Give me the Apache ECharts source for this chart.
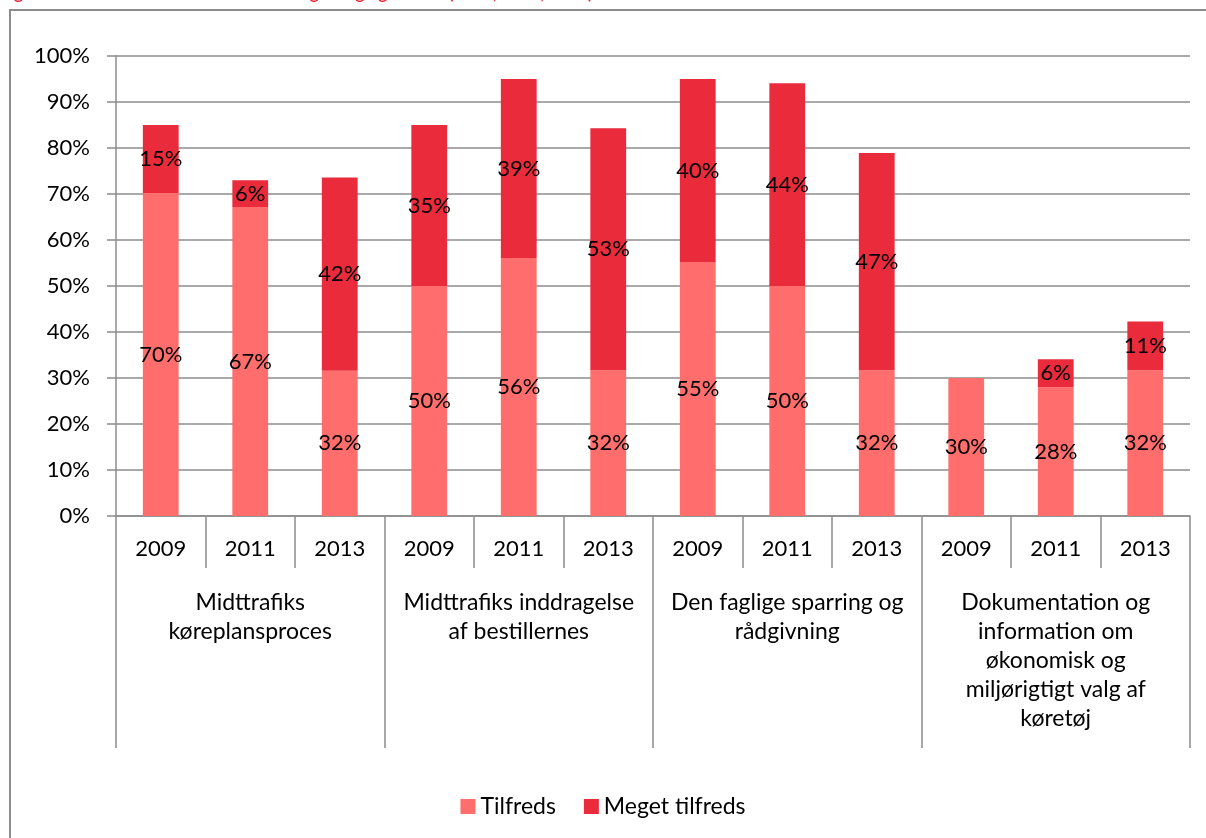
<!DOCTYPE html>
<html>
<head>
<meta charset="utf-8">
<script src="https://cdn.jsdelivr.net/npm/echarts@6/dist/echarts.min.js"></script>
<style>
  html, body { margin: 0; padding: 0; background: #fff; }
  #chart1 { width: 1206px; height: 838px; }
</style>
</head>
<body>
<div id="chart1"></div>
<script>
var years = ['2009', '2011', '2013', '2009', '2011', '2013', '2009', '2011', '2013', '2009', '2011', '2013'];
var groups = [
  'Midttrafiks\nkøreplansproces',
  'Midttrafiks inddragelse\naf bestillernes',
  'Den faglige sparring og\nrådgivning',
  'Dokumentation og\ninformation om\nøkonomisk og\nmiljørigtigt valg af\nkøretøj'
];
var tilfreds = [70.2, 67.2, 31.6, 50, 56.1, 31.7, 55.2, 50, 31.7, 30, 28, 31.7];
var megetTilfreds = [14.8, 5.8, 42, 35, 38.9, 52.6, 39.8, 44.1, 47.2, 0, 6.1, 10.6];
var yTicks = [0, 10, 20, 30, 40, 50, 60, 70, 80, 90, 100];

var font = 'Lato, "Open Sans", sans-serif';
var gray = '#8c8c8c';

var dom = document.getElementById('chart1');
var myChart = echarts.init(dom);

var pctLabel = {
  show: true,
  position: 'inside',
  color: '#000',
  fontFamily: font,
  fontSize: 22,
  formatter: function (p) {
    return p.value > 0 ? Math.round(p.value) + '%' : '';
  }
};

option = {
  animation: false,
  backgroundColor: '#fff',
  textStyle: { fontFamily: font },
  graphic: [
    {
      type: 'rect',
      shape: { x: 10, y: 10, width: 1220, height: 860 },
      style: { fill: 'none', stroke: gray, lineWidth: 2 }
    },
    {
      type: 'text',
      left: 0,
      top: -15,
      style: {
        text: 'Figur 12: Tilfredshed med Midttrafiks rådgivning og service (2009, 2011, 2013)',
        fill: '#e8283a',
        font: 'bold 17px ' + font
      }
    }
  ],
  legend: {
    data: ['Tilfreds', 'Meget tilfreds'],
    left: 'center',
    top: 790,
    icon: 'rect',
    itemWidth: 15,
    itemHeight: 15,
    itemGap: 28,
    textStyle: { fontFamily: font, fontSize: 23, color: '#000' }
  },
  grid: { left: 116, right: 16, top: 56, bottom: 322 },
  yAxis: {
    type: 'value',
    min: 0,
    max: 100,
    interval: 10,
    axisLine: { show: true, lineStyle: { color: gray, width: 1.5 } },
    axisTick: { show: true, length: 9, lineStyle: { color: gray, width: 1.5 } },
    splitLine: { show: true, lineStyle: { color: gray, width: 1.5 } },
    axisLabel: {
      color: '#000',
      fontFamily: font,
      fontSize: 22,
      margin: 26,
      formatter: function (v) { return yTicks.indexOf(v) >= 0 ? v + '%' : ''; }
    }
  },
  xAxis: [
    {
      type: 'category',
      data: years,
      position: 'bottom',
      axisLine: { show: true, lineStyle: { color: gray, width: 1.5 } },
      axisTick: { show: true, length: 52, interval: 0, lineStyle: { color: gray, width: 1.5 } },
      axisLabel: { interval: 0, color: '#000', fontFamily: font, fontSize: 22, margin: 22, lineHeight: 22 }
    },
    {
      type: 'category',
      data: groups,
      position: 'bottom',
      axisLine: { show: false },
      axisTick: { show: true, length: 232, interval: 0, lineStyle: { color: gray, width: 1.5 } },
      axisLabel: { interval: 0, color: '#000', fontFamily: font, fontSize: 23, margin: 72, lineHeight: 29 }
    }
  ],
  series: [
    {
      name: 'Tilfreds',
      type: 'bar',
      stack: 'total',
      xAxisIndex: 0,
      barWidth: '40%',
      data: tilfreds,
      itemStyle: { color: '#ff6d6d' },
      label: pctLabel
    },
    {
      name: 'Meget tilfreds',
      type: 'bar',
      stack: 'total',
      xAxisIndex: 0,
      barWidth: '40%',
      data: megetTilfreds,
      itemStyle: { color: '#e92b3c' },
      label: pctLabel
    }
  ]
};

if (option && typeof option === 'object') {
  myChart.setOption(option, true);
}
</script>
</body>
</html>
